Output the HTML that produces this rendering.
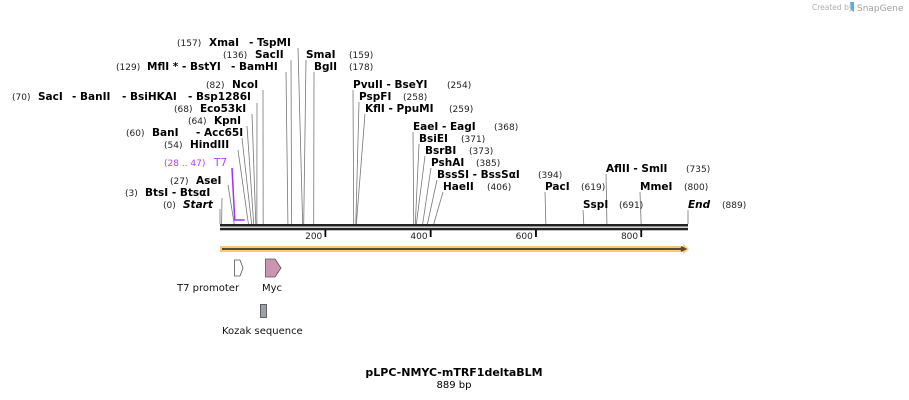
<!DOCTYPE html>
<html><head><meta charset="utf-8">
<style>
html,body{margin:0;padding:0;background:#fff;}
svg{display:block;font-family:"DejaVu Sans","Liberation Sans",sans-serif;}
.n{font-size:10.5px;font-weight:bold;fill:#000;}
.p{font-size:9px;fill:#222;}
</style></head>
<body>
<svg id="map" width="909" height="400" viewBox="0 0 909 400">
<text x="812" y="10" font-size="7.5" fill="#b0b0b0">Created by</text>
<path d="M850 2 h4 v10 l-3 -2 z" fill="#5aaee6"/>
<text x="857" y="11" font-size="9" fill="#a0a0a0">SnapGene</text>
<g id="lines"></g>
<g id="labels"></g>
<g id="axis"></g>
<text x="454" y="376" text-anchor="middle" font-size="11" font-weight="bold">pLPC-NMYC-mTRF1deltaBLM</text>
<text x="454" y="388" text-anchor="middle" font-size="10">889 bp</text>
</svg>
<script>
const seqLength = 889;
const axisTicks = [200, 400, 600, 800];
const sitePositions = [0, 3, 27, 54, 60, 64, 68, 70, 82, 129, 136, 157, 159, 178, 254, 258, 259, 368, 371, 373, 385, 394, 406, 619, 691, 735, 800, 889];
const siteNames = ["Start","BtsI","AseI","HindIII","BanI","KpnI","Eco53kI","SacI","NcoI","MflI","SacII","XmaI","SmaI","BglI","PvuII","PspFI","KflI","EaeI","BsiEI","BsrBI","PshAI","BssSI","HaeII","PacI","SspI","AflII","MmeI","End"];
const t7Start = 28, t7End = 47;

const X0 = 220, X1 = 688;
function xScale(bp){ return X0 + bp * (X1 - X0) / seqLength; }
const svg = document.getElementById('map');
const NS = 'http://www.w3.org/2000/svg';
function mk(tag, attrs, parent){ const e = document.createElementNS(NS, tag); for (const k in attrs) e.setAttribute(k, attrs[k]); (parent||svg).appendChild(e); return e; }

const leaderTops = [[220,209],[222,198],[228,185],[238,150],[242,138],[247,126],[252,114],[257,103],[263,90],[286,72],[291,60],[298,48],[306,60],[314,72],[353,90],[359,102],[365,114],[413,132],[419,144],[425,156],[431,168],[437,180],[443,192],[545,192],[583,210],[606,174],[640,192],[688,210]];
const gL = document.getElementById('lines');
sitePositions.forEach((pos, i) => {
  const l = mk('line', {x1: leaderTops[i][0], y1: leaderTops[i][1], x2: xScale(pos), y2: 224, stroke: '#777', 'stroke-width': 0.8}, gL);
  
  
});
const t7 = mk('path', {d: `M232 168 L${xScale(t7Start)} 220 L${xScale(t7End)} 220`, fill: 'none', stroke: '#9b30ff', 'stroke-width': 1.5}, gL);



const labelLayout = [
 [177,46,'(157)','p'],[209,46,'XmaI','n'],[249,46,'- TspMI','n'],
 [223,58,'(136)','p'],[255,58,'SacII','n'],[306,58,'SmaI','n'],[349,58,'(159)','p'],
 [116,70,'(129)','p'],[147,70,'MflI * - BstYI','n'],[231,70,'- BamHI','n'],[314,70,'BglI','n'],[349,70,'(178)','p'],
 [206,88,'(82)','p'],[232,88,'NcoI','n'],[353,88,'PvuII  - BseYI','n'],[447,88,'(254)','p'],
 [12,100,'(70)','p'],[38,100,'SacI','n'],[72,100,'- BanII','n'],[122,100,'- BsiHKAI','n'],[188,100,'- Bsp1286I','n'],[359,100,'PspFI','n'],[403,100,'(258)','p'],
 [174,112,'(68)','p'],[200,112,'Eco53kI','n'],[365,112,'KflI  - PpuMI','n'],[449,112,'(259)','p'],
 [188,124,'(64)','p'],[214,124,'KpnI','n'],
 [413,130,'EaeI  - EagI','n'],[494,130,'(368)','p'],
 [126,136,'(60)','p'],[152,136,'BanI','n'],[196,136,'- Acc65I','n'],
 [419,142,'BsiEI','n'],[461,142,'(371)','p'],
 [164,148,'(54)','p'],[190,148,'HindIII','n'],
 [425,154,'BsrBI','n'],[469,154,'(373)','p'],
 [431,166,'PshAI','n'],[476,166,'(385)','p'],
 [606,172,'AflII  - SmlI','n'],[686,172,'(735)','p'],
 [437,178,'BssSI  - BssSαI','n'],[538,178,'(394)','p'],
 [170,184,'(27)','p'],[196,184,'AseI','n'],
 [443,190,'HaeII','n'],[487,190,'(406)','p'],[545,190,'PacI','n'],[581,190,'(619)','p'],[640,190,'MmeI','n'],[684,190,'(800)','p'],
 [125,196,'(3)','p'],[145,196,'BtsI  - BtsαI','n'],
 [163,208,'(0)','p'],[583,208,'SspI','n'],[619,208,'(691)','p'],[722,208,'(889)','p']
];
const gT = document.getElementById('labels');
labelLayout.forEach(d => {
  const t = mk('text', {x: d[0], y: d[1], class: d[3]}, gT);
  t.textContent = d[2];
  
  
});
[[183,'Start'],[688,'End']].forEach(d => {
  const t = mk('text', {x: d[0], y: 208, class: 'n', 'font-style': 'italic'}, gT);
  t.textContent = d[1];
  
  
});
const t7a = mk('text', {x: 164, y: 166, 'font-size': 9, fill: '#b040ff'}, gT); t7a.textContent = '(28 .. 47)';


const t7b = mk('text', {x: 214, y: 166, 'font-size': 10.5, fill: '#b040ff'}, gT); t7b.textContent = 'T7';



const gA = document.getElementById('axis');
const b1 = mk('rect', {x: X0, y: 224, width: X1 - X0, height: 2.5, fill: '#222'}, gA);


const b2 = mk('rect', {x: X0, y: 227.8, width: X1 - X0, height: 2.5, fill: '#222'}, gA);


axisTicks.forEach(v => {
  const tk = mk('rect', {x: xScale(v) - 0.8, y: 230, width: 1.8, height: 7, fill: '#000'}, gA);
  
  
  const tl = mk('text', {x: xScale(v) - 3, y: 239, 'text-anchor': 'end', 'font-size': 9, fill: '#222'}, gA);
  tl.textContent = v;
  
  
});
const xe = xScale(seqLength) - 5;
const orf = mk('path', {d: `M${X0} 246 L${xe} 246 L${xe} 244 L${xe+6} 249 L${xe} 254 L${xe} 252 L${X0} 252 Z`, fill: '#f8c77a'}, gA);


const orfl = mk('path', {d: `M${X0+2} 249 L${xe+1} 249 M${xe-2} 247 L${xe+2} 249 L${xe-2} 251`, stroke: '#5a4a3a', 'stroke-width': 2, fill: 'none'}, gA);



const fp = mk('path', {d: 'M234.5 260 L240 260 L243 268 L240 276 L234.5 276 Z', fill: '#fff', stroke: '#555', 'stroke-width': 0.8}, gA);


const fm = mk('path', {d: 'M265.5 259 L275 259 L281 268 L275 277 L265.5 277 Z', fill: '#c995b0', stroke: '#555', 'stroke-width': 0.8}, gA);


const fk = mk('rect', {x: 260.5, y: 304.5, width: 6, height: 13, fill: '#9aa1aa', stroke: '#444', 'stroke-width': 0.8}, gA);


[[177,291,'T7 promoter','t7-promoter-label'],[262,291,'Myc','myc-label'],[222,334,'Kozak sequence','kozak-label']].forEach(d => {
  const t = mk('text', {x: d[0], y: d[1], 'font-size': 10, fill: '#111'}, gA);
  t.textContent = d[2];
  
  
});
</script>
</body></html>
